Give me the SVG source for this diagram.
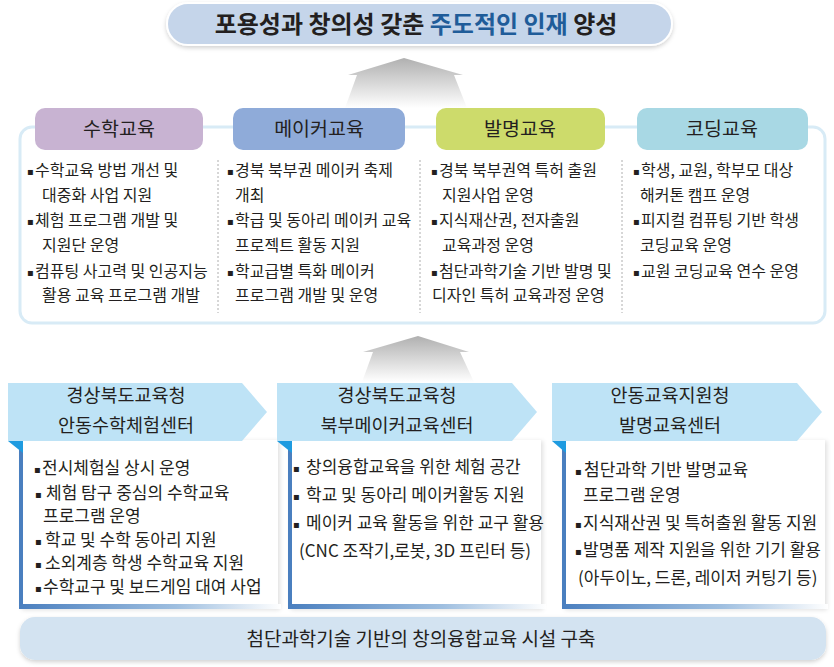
<svg xmlns="http://www.w3.org/2000/svg" width="834" height="667" viewBox="0 0 834 667">
<defs>
<linearGradient id="arrowGrad" x1="0" y1="0" x2="0" y2="1">
<stop offset="0" stop-color="#b0b0b0"/>
<stop offset="1" stop-color="#ffffff"/>
</linearGradient>
<linearGradient id="bottomGrad" x1="0" y1="0" x2="1" y2="0">
<stop offset="0" stop-color="#4a7fbf"/>
<stop offset="0.6" stop-color="#9fbfe0"/>
<stop offset="1" stop-color="#ffffff"/>
</linearGradient>
<filter id="shadow" x="-5%" y="-20%" width="110%" height="150%">
<feDropShadow dx="0" dy="2" stdDeviation="2" flood-color="#000" flood-opacity="0.18"/>
</filter>
<filter id="boxShadow" x="-5%" y="-5%" width="115%" height="115%">
<feDropShadow dx="2" dy="1" stdDeviation="2" flood-color="#000" flood-opacity="0.12"/>
</filter>
</defs>
<style>
text{font-family:"Noto Sans CJK KR","Noto Sans",sans-serif;fill:#231f20}
.title{font-size:24px;font-weight:bold}
.hl{fill:#1f5c99}
.pill{font-size:19.5px;text-anchor:middle}
.t{font-size:16px}
.b{font-size:17px}
.hd{font-size:18.5px;text-anchor:middle}
.bar{font-size:19px;text-anchor:middle}
.bu{font-family:"DejaVu Sans",sans-serif;font-size:10px}
.dash{stroke:#9a9a9a;stroke-width:0.8;stroke-dasharray:2 2;fill:none}
.chev{fill:#bee3f6}
.fold{fill:#1e9be0}
.lb{fill:#4a7fbf}
</style>
<rect width="834" height="667" fill="#ffffff"/>

<g id="title">
<rect x="167" y="3" width="505" height="42" rx="21" fill="#c5d5ea" stroke="#ffffff" stroke-width="2" filter="url(#shadow)"/>
<text class="title" x="416" y="33" text-anchor="middle">포용성과 창의성 갖춘 <tspan class="hl">주도적인 인재</tspan> 양성</text>
</g>

<g id="connectors">
<polygon points="404,58 463,75 454,75 467,108 345,108 357,75 348,75" fill="url(#arrowGrad)"/>
<polygon points="418,336 469,352 460,352 474,382 362,382 373,352 363,352" fill="url(#arrowGrad)"/>
</g>

<g id="programs">
<rect x="20" y="127" width="805" height="196" rx="12" fill="#ffffff" stroke="#d8ebf6" stroke-width="3"/>
<line class="dash" x1="218" y1="160" x2="218" y2="313"/>
<line class="dash" x1="420" y1="160" x2="420" y2="313"/>
<line class="dash" x1="622" y1="160" x2="622" y2="313"/>
</g>

<g id="math-edu">
<rect x="35" y="108" width="168" height="42" rx="10" fill="#c8b3d2"/>
<text class="pill" x="119" y="136">수학교육</text>
<text class="t"><tspan class="bu" x="27" y="175">▪</tspan><tspan x="35" y="176">수학교육 방법 개선 및</tspan><tspan x="42" y="201">대중화 사업 지원</tspan></text>
<text class="t"><tspan class="bu" x="27" y="225">▪</tspan><tspan x="35" y="226">체험 프로그램 개발 및</tspan><tspan x="42" y="251">지원단 운영</tspan></text>
<text class="t"><tspan class="bu" x="27" y="276">▪</tspan><tspan x="35" y="277">컴퓨팅 사고력 및 인공지능</tspan><tspan x="42" y="301">활용 교육 프로그램 개발</tspan></text>
</g>

<g id="maker-edu">
<rect x="233" y="108" width="172" height="42" rx="10" fill="#8fabd9"/>
<text class="pill" x="319" y="136">메이커교육</text>
<text class="t"><tspan class="bu" x="227" y="175">▪</tspan><tspan x="235" y="176">경북 북부권 메이커 축제</tspan><tspan x="235" y="201">개최</tspan></text>
<text class="t"><tspan class="bu" x="227" y="225">▪</tspan><tspan x="235" y="226">학급 및 동아리 메이커 교육</tspan><tspan x="235" y="251">프로젝트 활동 지원</tspan></text>
<text class="t"><tspan class="bu" x="227" y="276">▪</tspan><tspan x="235" y="277">학교급별 특화 메이커</tspan><tspan x="235" y="301">프로그램 개발 및 운영</tspan></text>
</g>

<g id="invention-edu">
<rect x="436" y="108" width="169" height="42" rx="10" fill="#cddb6b"/>
<text class="pill" x="520" y="136">발명교육</text>
<text class="t"><tspan class="bu" x="431" y="175">▪</tspan><tspan x="439" y="176">경북 북부권역 특허 출원</tspan><tspan x="442" y="201">지원사업  운영</tspan></text>
<text class="t"><tspan class="bu" x="431" y="225">▪</tspan><tspan x="439" y="226">지식재산권, 전자출원</tspan><tspan x="442" y="251">교육과정 운영</tspan></text>
<text class="t"><tspan class="bu" x="431" y="276">▪</tspan><tspan x="439" y="277">첨단과학기술 기반 발명 및</tspan><tspan x="432" y="301">디자인 특허 교육과정 운영</tspan></text>
</g>

<g id="coding-edu">
<rect x="637" y="108" width="171" height="42" rx="10" fill="#a8d8e4"/>
<text class="pill" x="722" y="136">코딩교육</text>
<text class="t"><tspan class="bu" x="633" y="175">▪</tspan><tspan x="641" y="176">학생, 교원, 학부모 대상</tspan><tspan x="640" y="201">해커톤 캠프 운영</tspan></text>
<text class="t"><tspan class="bu" x="633" y="225">▪</tspan><tspan x="641" y="226">피지컬 컴퓨팅 기반 학생</tspan><tspan x="640" y="251">코딩교육 운영</tspan></text>
<text class="t"><tspan class="bu" x="633" y="276">▪</tspan><tspan x="641" y="277">교원 코딩교육 연수 운영</tspan></text>
</g>

<g id="center-math">
<rect x="20" y="440" width="258" height="169" fill="#ffffff" filter="url(#boxShadow)"/>
<rect class="lb" x="19" y="440" width="4" height="169"/>
<rect x="19" y="604" width="262" height="5" fill="url(#bottomGrad)"/>
<polygon class="chev" points="8,383 242,383 267,412 242,441 8,441"/>
<polygon class="fold" points="8,441 23,441 23,453"/>
<text class="hd" x="126" y="402">경상북도교육청</text>
<text class="hd" x="126" y="432">안동수학체험센터</text>
<text class="b"><tspan class="bu" x="34" y="473">▪</tspan><tspan x="42" y="474">전시체험실 상시 운영</tspan></text>
<text class="b"><tspan class="bu" x="35" y="498">▪</tspan><tspan x="46" y="499">체험 탐구 중심의 수학교육</tspan><tspan x="43" y="522">프로그램 운영</tspan></text>
<text class="b"><tspan class="bu" x="35" y="545">▪</tspan><tspan x="45" y="546">학교 및 수학 동아리 지원</tspan></text>
<text class="b"><tspan class="bu" x="35" y="568">▪</tspan><tspan x="45" y="569">소외계층 학생 수학교육 지원</tspan></text>
<text class="b"><tspan class="bu" x="35" y="592">▪</tspan><tspan x="43" y="593">수학교구 및 보드게임 대여 사업</tspan></text>
</g>

<g id="center-maker">
<rect x="289" y="440" width="252" height="169" fill="#ffffff" filter="url(#boxShadow)"/>
<rect class="lb" x="288" y="440" width="4" height="169"/>
<rect x="288" y="604" width="258" height="5" fill="url(#bottomGrad)"/>
<polygon class="chev" points="277,383 512,383 537,412 512,441 277,441"/>
<polygon class="fold" points="277,441 292,441 292,453"/>
<text class="hd" x="397" y="402">경상북도교육청</text>
<text class="hd" x="397" y="432">북부메이커교육센터</text>
<text class="b"><tspan class="bu" x="293" y="472">▪</tspan><tspan x="306" y="473">창의융합교육을 위한 체험 공간</tspan></text>
<text class="b"><tspan class="bu" x="293" y="500">▪</tspan><tspan x="306" y="501">학교 및 동아리 메이커활동 지원</tspan></text>
<text class="b"><tspan class="bu" x="293" y="528">▪</tspan><tspan x="306" y="529">메이커 교육 활동을 위한 교구 활용</tspan><tspan x="299" y="557">(CNC 조작기,로봇, 3D 프린터 등)</tspan></text>
</g>

<g id="center-invention">
<rect x="563" y="440" width="262" height="169" fill="#ffffff" filter="url(#boxShadow)"/>
<rect class="lb" x="562" y="440" width="4" height="169"/>
<rect x="562" y="604" width="266" height="5" fill="url(#bottomGrad)"/>
<polygon class="chev" points="552,383 797,383 822,412 797,441 552,441"/>
<polygon class="fold" points="552,441 566,441 566,453"/>
<text class="hd" x="670" y="402">안동교육지원청</text>
<text class="hd" x="670" y="432">발명교육센터</text>
<text class="b"><tspan class="bu" x="575" y="475">▪</tspan><tspan x="584" y="476">첨단과학 기반 발명교육</tspan><tspan x="583" y="501">프로그램 운영</tspan></text>
<text class="b"><tspan class="bu" x="575" y="528">▪</tspan><tspan x="583" y="529">지식재산권 및 특허출원 활동 지원</tspan></text>
<text class="b"><tspan class="bu" x="575" y="555">▪</tspan><tspan x="583" y="556">발명품 제작 지원을 위한 기기 활용</tspan><tspan x="578" y="584">(아두이노, 드론, 레이저 커팅기 등)</tspan></text>
</g>

<g id="foundation">
<rect x="20" y="617" width="806" height="43" rx="15" fill="#d3e3f1" filter="url(#shadow)"/>
<text class="bar" x="421" y="646">첨단과학기술 기반의 창의융합교육 시설 구축</text>
</g>
</svg>
